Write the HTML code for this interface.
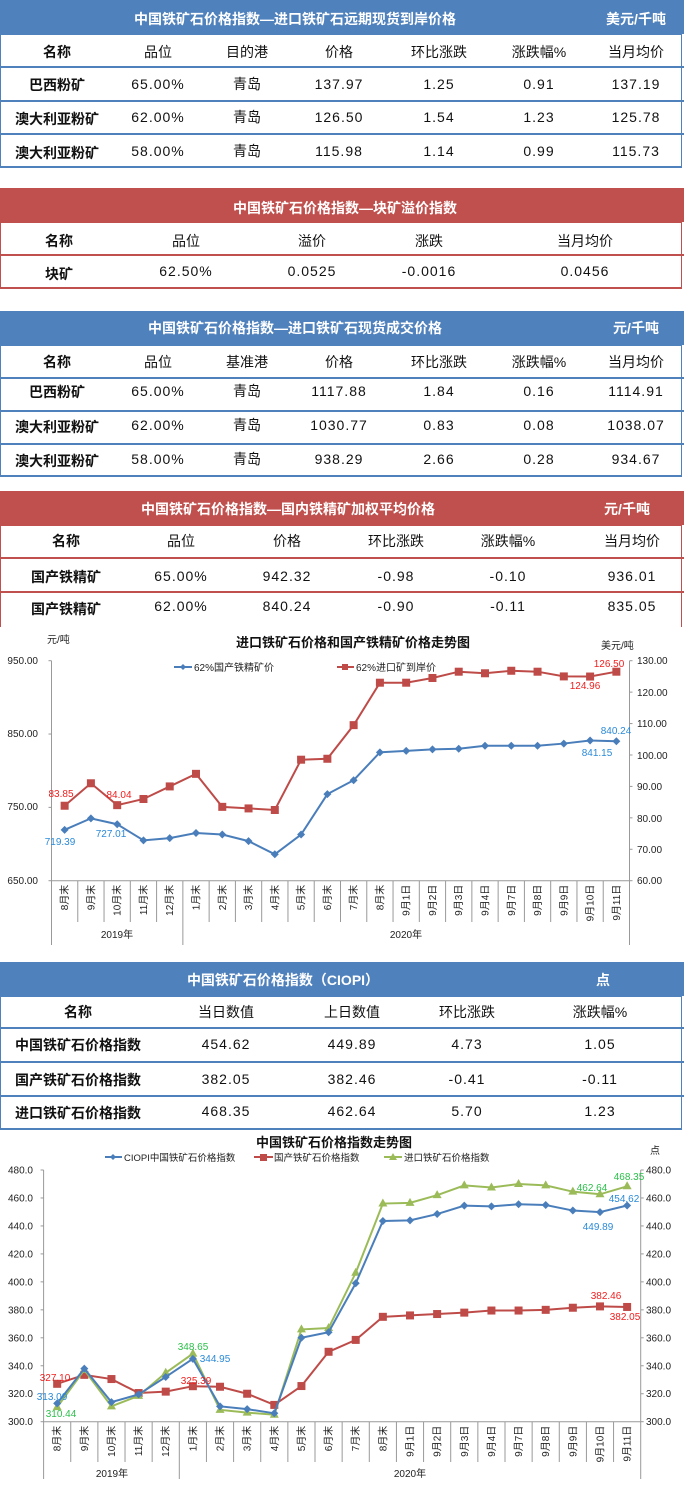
<!DOCTYPE html>
<html><head><meta charset="utf-8">
<style>
body{margin:0;width:684px;height:1487px;background:#fff;position:relative;overflow:hidden;font-family:"Liberation Sans","Noto Sans CJK SC",sans-serif;}
.band{position:absolute;left:0;width:684px;height:34px;}
.blue{background:#4f81bd}.red{background:#c0504d}
.box{position:absolute;left:0;width:682px;box-sizing:border-box;}
.hl{position:absolute;left:0;width:684px;height:2px;}
.t{position:absolute;transform:translate(-50%,-50%);white-space:nowrap;font-size:14px;color:#111;}
.n{letter-spacing:1px;font-family:"Liberation Sans",sans-serif;}
.b{font-weight:bold;}
.w{color:#fff;font-weight:bold;font-size:14px;}
svg text{font-family:"Liberation Sans","Noto Sans CJK SC",sans-serif;}
</style></head><body>

<!-- Table 1 -->
<div class="band blue" style="top:0"></div>
<div class="t w" style="left:295px;top:19px">中国铁矿石价格指数—进口铁矿石远期现货到岸价格</div>
<div class="t w" style="left:636px;top:19px">美元/千吨</div>
<div class="box" style="top:34px;height:134px;border:1px solid #4f81bd;border-bottom:2px solid #4f81bd"></div>
<div class="hl blue" style="top:66px"></div><div class="hl blue" style="top:100px"></div><div class="hl blue" style="top:133px"></div>
<div class="t b" style="left:57px;top:52px">名称</div><div class="t" style="left:158px;top:52px">品位</div><div class="t" style="left:247px;top:52px">目的港</div><div class="t" style="left:339px;top:52px">价格</div><div class="t" style="left:439px;top:52px">环比涨跌</div><div class="t" style="left:539px;top:52px">涨跌幅%</div><div class="t" style="left:636px;top:52px">当月均价</div>
<div class="t b" style="left:57px;top:85px">巴西粉矿</div><div class="t n" style="left:158px;top:84px">65.00%</div><div class="t" style="left:247px;top:84px">青岛</div><div class="t n" style="left:339px;top:84px">137.97</div><div class="t n" style="left:439px;top:84px">1.25</div><div class="t n" style="left:539px;top:84px">0.91</div><div class="t n" style="left:636px;top:84px">137.19</div>
<div class="t b" style="left:57px;top:119px">澳大利亚粉矿</div><div class="t n" style="left:158px;top:117px">62.00%</div><div class="t" style="left:247px;top:117px">青岛</div><div class="t n" style="left:339px;top:117px">126.50</div><div class="t n" style="left:439px;top:117px">1.54</div><div class="t n" style="left:539px;top:117px">1.23</div><div class="t n" style="left:636px;top:117px">125.78</div>
<div class="t b" style="left:57px;top:153px">澳大利亚粉矿</div><div class="t n" style="left:158px;top:151px">58.00%</div><div class="t" style="left:247px;top:151px">青岛</div><div class="t n" style="left:339px;top:151px">115.98</div><div class="t n" style="left:439px;top:151px">1.14</div><div class="t n" style="left:539px;top:151px">0.99</div><div class="t n" style="left:636px;top:151px">115.73</div>

<!-- Table 2 -->
<div class="band red" style="top:188px"></div>
<div class="t w" style="left:345px;top:208px">中国铁矿石价格指数—块矿溢价指数</div>
<div class="box" style="top:222px;height:67px;border:1px solid #c0504d;border-bottom:2px solid #c0504d"></div>
<div class="hl red" style="top:254px"></div>
<div class="t b" style="left:59px;top:241px">名称</div><div class="t" style="left:186px;top:241px">品位</div><div class="t" style="left:312px;top:241px">溢价</div><div class="t" style="left:429px;top:241px">涨跌</div><div class="t" style="left:585px;top:241px">当月均价</div>
<div class="t b" style="left:59px;top:274px">块矿</div><div class="t n" style="left:186px;top:271px">62.50%</div><div class="t n" style="left:312px;top:271px">0.0525</div><div class="t n" style="left:429px;top:271px">-0.0016</div><div class="t n" style="left:585px;top:271px">0.0456</div>

<!-- Table 3 -->
<div class="band blue" style="top:311px"></div>
<div class="t w" style="left:295px;top:328px">中国铁矿石价格指数—进口铁矿石现货成交价格</div>
<div class="t w" style="left:636px;top:328px">元/千吨</div>
<div class="box" style="top:345px;height:132px;border:1px solid #4f81bd;border-bottom:2px solid #4f81bd"></div>
<div class="hl blue" style="top:377px"></div><div class="hl blue" style="top:410px"></div><div class="hl blue" style="top:443px"></div>
<div class="t b" style="left:57px;top:362px">名称</div><div class="t" style="left:158px;top:362px">品位</div><div class="t" style="left:247px;top:362px">基准港</div><div class="t" style="left:339px;top:362px">价格</div><div class="t" style="left:439px;top:362px">环比涨跌</div><div class="t" style="left:539px;top:362px">涨跌幅%</div><div class="t" style="left:636px;top:362px">当月均价</div>
<div class="t b" style="left:57px;top:392px">巴西粉矿</div><div class="t n" style="left:158px;top:391px">65.00%</div><div class="t" style="left:247px;top:391px">青岛</div><div class="t n" style="left:339px;top:391px">1117.88</div><div class="t n" style="left:439px;top:391px">1.84</div><div class="t n" style="left:539px;top:391px">0.16</div><div class="t n" style="left:636px;top:391px">1114.91</div>
<div class="t b" style="left:57px;top:427px">澳大利亚粉矿</div><div class="t n" style="left:158px;top:425px">62.00%</div><div class="t" style="left:247px;top:425px">青岛</div><div class="t n" style="left:339px;top:425px">1030.77</div><div class="t n" style="left:439px;top:425px">0.83</div><div class="t n" style="left:539px;top:425px">0.08</div><div class="t n" style="left:636px;top:425px">1038.07</div>
<div class="t b" style="left:57px;top:461px">澳大利亚粉矿</div><div class="t n" style="left:158px;top:459px">58.00%</div><div class="t" style="left:247px;top:459px">青岛</div><div class="t n" style="left:339px;top:459px">938.29</div><div class="t n" style="left:439px;top:459px">2.66</div><div class="t n" style="left:539px;top:459px">0.28</div><div class="t n" style="left:636px;top:459px">934.67</div>

<!-- Table 4 -->
<div class="band red" style="top:491px"></div>
<div class="t w" style="left:288px;top:509px">中国铁矿石价格指数—国内铁精矿加权平均价格</div>
<div class="t w" style="left:627px;top:509px">元/千吨</div>
<div class="box" style="top:525px;height:102px;border:1px solid #c0504d;border-bottom:none"></div>
<div class="hl red" style="top:557px"></div><div class="hl red" style="top:591px"></div>
<div class="t b" style="left:66px;top:541px">名称</div><div class="t" style="left:181px;top:541px">品位</div><div class="t" style="left:287px;top:541px">价格</div><div class="t" style="left:396px;top:541px">环比涨跌</div><div class="t" style="left:508px;top:541px">涨跌幅%</div><div class="t" style="left:632px;top:541px">当月均价</div>
<div class="t b" style="left:66px;top:577px">国产铁精矿</div><div class="t n" style="left:181px;top:576px">65.00%</div><div class="t n" style="left:287px;top:576px">942.32</div><div class="t n" style="left:396px;top:576px">-0.98</div><div class="t n" style="left:508px;top:576px">-0.10</div><div class="t n" style="left:632px;top:576px">936.01</div>
<div class="t b" style="left:66px;top:609px">国产铁精矿</div><div class="t n" style="left:181px;top:606px">62.00%</div><div class="t n" style="left:287px;top:606px">840.24</div><div class="t n" style="left:396px;top:606px">-0.90</div><div class="t n" style="left:508px;top:606px">-0.11</div><div class="t n" style="left:632px;top:606px">835.05</div>

<!-- Chart 1 -->
<svg id="c1" style="position:absolute;left:0;top:625px" width="684" height="330" viewBox="0 625 684 330">
<text x="353" y="647" font-size="13" font-weight="bold" text-anchor="middle" fill="#111">进口铁矿石价格和国产铁精矿价格走势图</text>
<text x="47" y="643" font-size="10" fill="#222">元/吨</text>
<text x="601" y="649" font-size="10" fill="#222">美元/吨</text>
<line x1="174" y1="667" x2="192" y2="667" stroke="#4a7ebb" stroke-width="2"/><path d="M183 664 L186 667 L183 670 L180 667Z" fill="#4a7ebb"/>
<text x="194" y="671" font-size="10" fill="#222">62%国产铁精矿价</text>
<line x1="337" y1="667" x2="354" y2="667" stroke="#be4b48" stroke-width="2"/><rect x="342" y="664" width="6" height="6" fill="#be4b48"/>
<text x="356" y="671" font-size="10" fill="#222">62%进口矿到岸价</text>
<g font-size="10" fill="#222" text-anchor="end">
<text x="38" y="664">950.00</text><text x="38" y="737">850.00</text><text x="38" y="810">750.00</text><text x="38" y="884">650.00</text>
</g>
<g font-size="10" fill="#222">
<text x="637" y="664">130.00</text><text x="637" y="696">120.00</text><text x="637" y="727">110.00</text><text x="637" y="759">100.00</text><text x="637" y="790">90.00</text><text x="637" y="822">80.00</text><text x="637" y="853">70.00</text><text x="637" y="884">60.00</text>
</g>
<g stroke="#999" stroke-width="1" id="c1ax"></g>
<g font-size="10" fill="#222" id="c1cat"></g>
<text x="117" y="938" font-size="10" text-anchor="middle" fill="#222">2019年</text>
<text x="406" y="938" font-size="10" text-anchor="middle" fill="#222">2020年</text>
<g id="c1s"></g>
<g font-size="10">
<text x="61" y="797" fill="#f01e1e" text-anchor="middle">83.85</text>
<text x="119" y="798" fill="#f01e1e" text-anchor="middle">84.04</text>
<text x="609" y="667" fill="#f01e1e" text-anchor="middle">126.50</text>
<text x="585" y="689" fill="#f01e1e" text-anchor="middle">124.96</text>
<text x="60" y="845" fill="#2a8ad8" text-anchor="middle">719.39</text>
<text x="111" y="837" fill="#2a8ad8" text-anchor="middle">727.01</text>
<text x="616" y="734" fill="#2a8ad8" text-anchor="middle">840.24</text>
<text x="597" y="756" fill="#2a8ad8" text-anchor="middle">841.15</text>
</g>
</svg>

<!-- Table 5 -->
<div class="band blue" style="top:962px"></div>
<div class="t w" style="left:283px;top:980px">中国铁矿石价格指数（CIOPI）</div>
<div class="t w" style="left:603px;top:980px">点</div>
<div class="box" style="top:996px;height:134px;border:1px solid #4f81bd;border-bottom:2px solid #4f81bd"></div>
<div class="hl blue" style="top:1027px"></div><div class="hl blue" style="top:1061px"></div><div class="hl blue" style="top:1095px"></div>
<div class="t b" style="left:78px;top:1012px">名称</div><div class="t" style="left:226px;top:1012px">当日数值</div><div class="t" style="left:352px;top:1012px">上日数值</div><div class="t" style="left:467px;top:1012px">环比涨跌</div><div class="t" style="left:600px;top:1012px">涨跌幅%</div>
<div class="t b" style="left:78px;top:1045px">中国铁矿石价格指数</div><div class="t n" style="left:226px;top:1044px">454.62</div><div class="t n" style="left:352px;top:1044px">449.89</div><div class="t n" style="left:467px;top:1044px">4.73</div><div class="t n" style="left:600px;top:1044px">1.05</div>
<div class="t b" style="left:78px;top:1080px">国产铁矿石价格指数</div><div class="t n" style="left:226px;top:1079px">382.05</div><div class="t n" style="left:352px;top:1079px">382.46</div><div class="t n" style="left:467px;top:1079px">-0.41</div><div class="t n" style="left:600px;top:1079px">-0.11</div>
<div class="t b" style="left:78px;top:1113px">进口铁矿石价格指数</div><div class="t n" style="left:226px;top:1111px">468.35</div><div class="t n" style="left:352px;top:1111px">462.64</div><div class="t n" style="left:467px;top:1111px">5.70</div><div class="t n" style="left:600px;top:1111px">1.23</div>

<!-- Chart 2 -->
<svg id="c2" style="position:absolute;left:0;top:1131px" width="684" height="356" viewBox="0 1131 684 356">
<text x="334" y="1147" font-size="13" font-weight="bold" text-anchor="middle" fill="#111">中国铁矿石价格指数走势图</text>
<text x="655" y="1154" font-size="10" fill="#222" text-anchor="middle">点</text>
<line x1="105" y1="1157" x2="122" y2="1157" stroke="#4a7ebb" stroke-width="2"/><path d="M113 1154 L116 1157 L113 1160 L110 1157Z" fill="#4a7ebb"/>
<text x="124" y="1161" font-size="9.5" fill="#222">CIOPI中国铁矿石价格指数</text>
<line x1="254" y1="1157" x2="273" y2="1157" stroke="#be4b48" stroke-width="2"/><rect x="260" y="1154" width="7" height="7" fill="#be4b48"/>
<text x="274" y="1161" font-size="9.5" fill="#222">国产铁矿石价格指数</text>
<line x1="384" y1="1157" x2="402" y2="1157" stroke="#9bbb59" stroke-width="2"/><path d="M393 1153 L397 1160 L389 1160Z" fill="#9bbb59"/>
<text x="404" y="1161" font-size="9.5" fill="#222">进口铁矿石价格指数</text>
<g font-size="10" fill="#222" id="c2y"></g>
<g stroke="#999" stroke-width="1" id="c2ax"></g>
<g font-size="10" fill="#222" id="c2cat"></g>
<text x="112" y="1477" font-size="10" text-anchor="middle" fill="#222">2019年</text>
<text x="410" y="1477" font-size="10" text-anchor="middle" fill="#222">2020年</text>
<g id="c2s"></g>
<g font-size="10">
<text x="55" y="1381" fill="#f01e1e" text-anchor="middle">327.10</text>
<text x="52" y="1400" fill="#2a8ad8" text-anchor="middle">313.09</text>
<text x="61" y="1417" fill="#2bbf4a" text-anchor="middle">310.44</text>
<text x="193" y="1350" fill="#2bbf4a" text-anchor="middle">348.65</text>
<text x="215" y="1362" fill="#2a8ad8" text-anchor="middle">344.95</text>
<text x="196" y="1384" fill="#f01e1e" text-anchor="middle">325.39</text>
<text x="606" y="1299" fill="#f01e1e" text-anchor="middle">382.46</text>
<text x="625" y="1320" fill="#f01e1e" text-anchor="middle">382.05</text>
<text x="629" y="1180" fill="#2bbf4a" text-anchor="middle">468.35</text>
<text x="592" y="1191" fill="#2bbf4a" text-anchor="middle">462.64</text>
<text x="624" y="1202" fill="#2a8ad8" text-anchor="middle">454.62</text>
<text x="598" y="1230" fill="#2a8ad8" text-anchor="middle">449.89</text>
</g>
</svg>

<script>
var NS="http://www.w3.org/2000/svg";
function el(p,t,a){var e=document.createElementNS(NS,t);for(var k in a)e.setAttribute(k,a[k]);p.appendChild(e);return e;}
var cats=["8月末","9月末","10月末","11月末","12月末","1月末","2月末","3月末","4月末","5月末","6月末","7月末","8月末","9月1日","9月2日","9月3日","9月4日","9月7日","9月8日","9月9日","9月10日","9月11日"];
function frame(ax,cg,L,R,top,bot,catBot,yearBot){
 var w=(R-L)/22;
 el(ax,"line",{x1:L,y1:top,x2:L,y2:yearBot});
 el(ax,"line",{x1:R,y1:top,x2:R,y2:yearBot});
 el(ax,"line",{x1:L,y1:bot,x2:R,y2:bot});
 for(var i=1;i<22;i++){var x=L+w*i;el(ax,"line",{x1:x,y1:bot,x2:x,y2:(i==5?yearBot:catBot)});}
 for(var i=0;i<22;i++){var x=L+w*(i+0.5);var t=el(cg,"text",{x:0,y:0,"text-anchor":"end",transform:"translate("+(x+3.5)+","+(bot+4)+") rotate(-90)"});t.textContent=cats[i];}
 return w;
}
function series(g,L,w,data,fy,color,mk){
 var pts=data.map(function(v,i){return [L+w*(i+0.5),fy(v)];});
 el(g,"polyline",{points:pts.map(function(p){return p.join(",")}).join(" "),fill:"none",stroke:color,"stroke-width":2});
 pts.forEach(function(p){var x=p[0],y=p[1];
  if(mk=="d")el(g,"path",{d:"M"+x+" "+(y-4)+"L"+(x+4)+" "+y+"L"+x+" "+(y+4)+"L"+(x-4)+" "+y+"Z",fill:color});
  else if(mk=="s")el(g,"rect",{x:x-4,y:y-4,width:8,height:8,fill:color});
  else el(g,"path",{d:"M"+x+" "+(y-5)+"L"+(x+4.5)+" "+(y+3)+"L"+(x-4.5)+" "+(y+3)+"Z",fill:color});
 });
}
// chart1
var L1=51.5,R1=629.5,T1=660.7,B1=880.7;
var w1=frame(document.getElementById("c1ax"),document.getElementById("c1cat"),L1,R1,T1,B1,922,945);
var g1=document.getElementById("c1s");
series(g1,L1,w1,[83.85,91,84.04,86,90,94,83.5,83,82.5,98.5,98.8,109.5,123,123,124.5,126.5,126,126.8,126.5,125,124.96,126.5],function(v){return B1-(v-60)*(B1-T1)/70;},"#be4b48","s");
series(g1,L1,w1,[719.39,735,727.01,705,708,715,713,704,686,713,768,787,825,827,829,830,834,834,834,837,841.15,840.24],function(v){return B1-(v-650)*(B1-T1)/300;},"#4a7ebb","d");
// chart2
var L2=43.6,R2=640.7,T2=1170,B2=1421.7;
var ax2=document.getElementById("c2ax");
var w2=frame(ax2,document.getElementById("c2cat"),L2,R2,T2,B2,1462,1479);
var yg=document.getElementById("c2y");
for(var v=300;v<=480;v+=20){var y=B2-(v-300)*(B2-T2)/180;
 el(ax2,"line",{x1:L2-3,y1:y,x2:L2,y2:y});el(ax2,"line",{x1:R2,y1:y,x2:R2+3,y2:y});
 var a=el(yg,"text",{x:33,y:y+3.5,"text-anchor":"end"});a.textContent=v.toFixed(1);
 var b=el(yg,"text",{x:646,y:y+3.5});b.textContent=v.toFixed(1);}
var fy2=function(v){return B2-(v-300)*(B2-T2)/180;};
var g2=document.getElementById("c2s");
series(g2,L2,w2,[327.10,333.5,330.5,320.5,321.5,325.39,325,320,312,325.5,350,358.5,375,376,377,378,379.5,379.5,380,381.5,382.46,382.05],fy2,"#be4b48","s");
series(g2,L2,w2,[310.44,337,311,318.5,335,348.65,308.5,306.5,305,366,367,406.5,456,456.5,462,469,467.5,470,469,464.5,462.64,468.35],fy2,"#9bbb59","t");
series(g2,L2,w2,[313.09,338,314,319.5,332,344.95,311,309,306,360,364,399,443.5,444,448.5,454.5,454,455.5,455,451,449.89,454.62],fy2,"#4a7ebb","d");
// chart1 tick marks
var ax1=document.getElementById("c1ax");
for(var i=0;i<=3;i++){var y=T1+i*(B1-T1)/3;el(ax1,"line",{x1:L1-3,y1:y,x2:L1,y2:y});}
for(var i=0;i<=7;i++){var y=T1+i*(B1-T1)/7;el(ax1,"line",{x1:R1,y1:y,x2:R1+3,y2:y});}
</script>
</body></html>
